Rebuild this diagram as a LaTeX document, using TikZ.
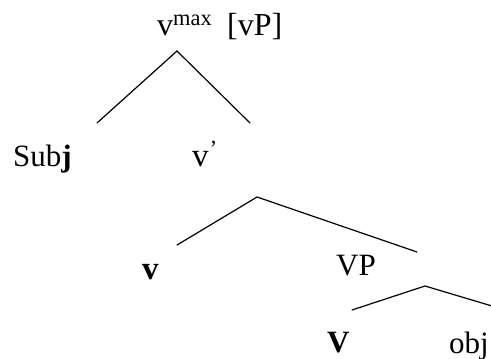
\documentclass[tikz,border=0pt]{standalone}
\usepackage{fontspec}
\setmainfont{Liberation Serif}
\usepackage{tikz}
\usetikzlibrary{positioning}
\tikzstyle{lbl} = [inner sep=0pt, anchor=base west, font=\fontsize{31}{34}\selectfont]
\tikzstyle{toplbl} = [lbl, font=\fontsize{32}{36}\selectfont]
\tikzstyle{branch} = [line width=1.2pt, line cap=round]

\begin{document}
\begin{tikzpicture}[x=1pt, y=-1pt]
\useasboundingbox (0,0) rectangle (491,359);
\node (vmax) [toplbl] at (157,35) {v\textsuperscript{max}};
\node (vp) [toplbl] at (227,35) {[vP]};
\node (subj) [lbl] at (13,166) {Sub\textbf{j}};
\node (vbar) [lbl, font=\fontsize{33}{36}\selectfont] at (192,166) {v\textsuperscript{\kern1pt’}};
\node (lv) [lbl, font=\fontsize{33}{36}\selectfont] at (142,279) {\textbf{v}};
\node (bigvp) [lbl, font=\fontsize{31}{34}\selectfont] at (336,275) {VP};
\node (bigv) [lbl] at (327,352) {\textbf{V}};
\node (obj) [lbl] at (449,353) {obj};

\coordinate (a1) at (177,51);
\coordinate (a1l) at (97,123);
\coordinate (a1r) at (250,123);
\coordinate (a2) at (257,197);
\coordinate (a2l) at (177,245);
\coordinate (a2r) at (417,252);
\coordinate (a3) at (425,286);
\coordinate (a3l) at (352,310);
\coordinate (a3r) at (492,306);

\draw [branch] (a1l) -- (a1) -- (a1r);
\draw [branch] (a2l) -- (a2) -- (a2r);
\draw [branch] (a3l) -- (a3) -- (a3r);
\end{tikzpicture}
\end{document}
